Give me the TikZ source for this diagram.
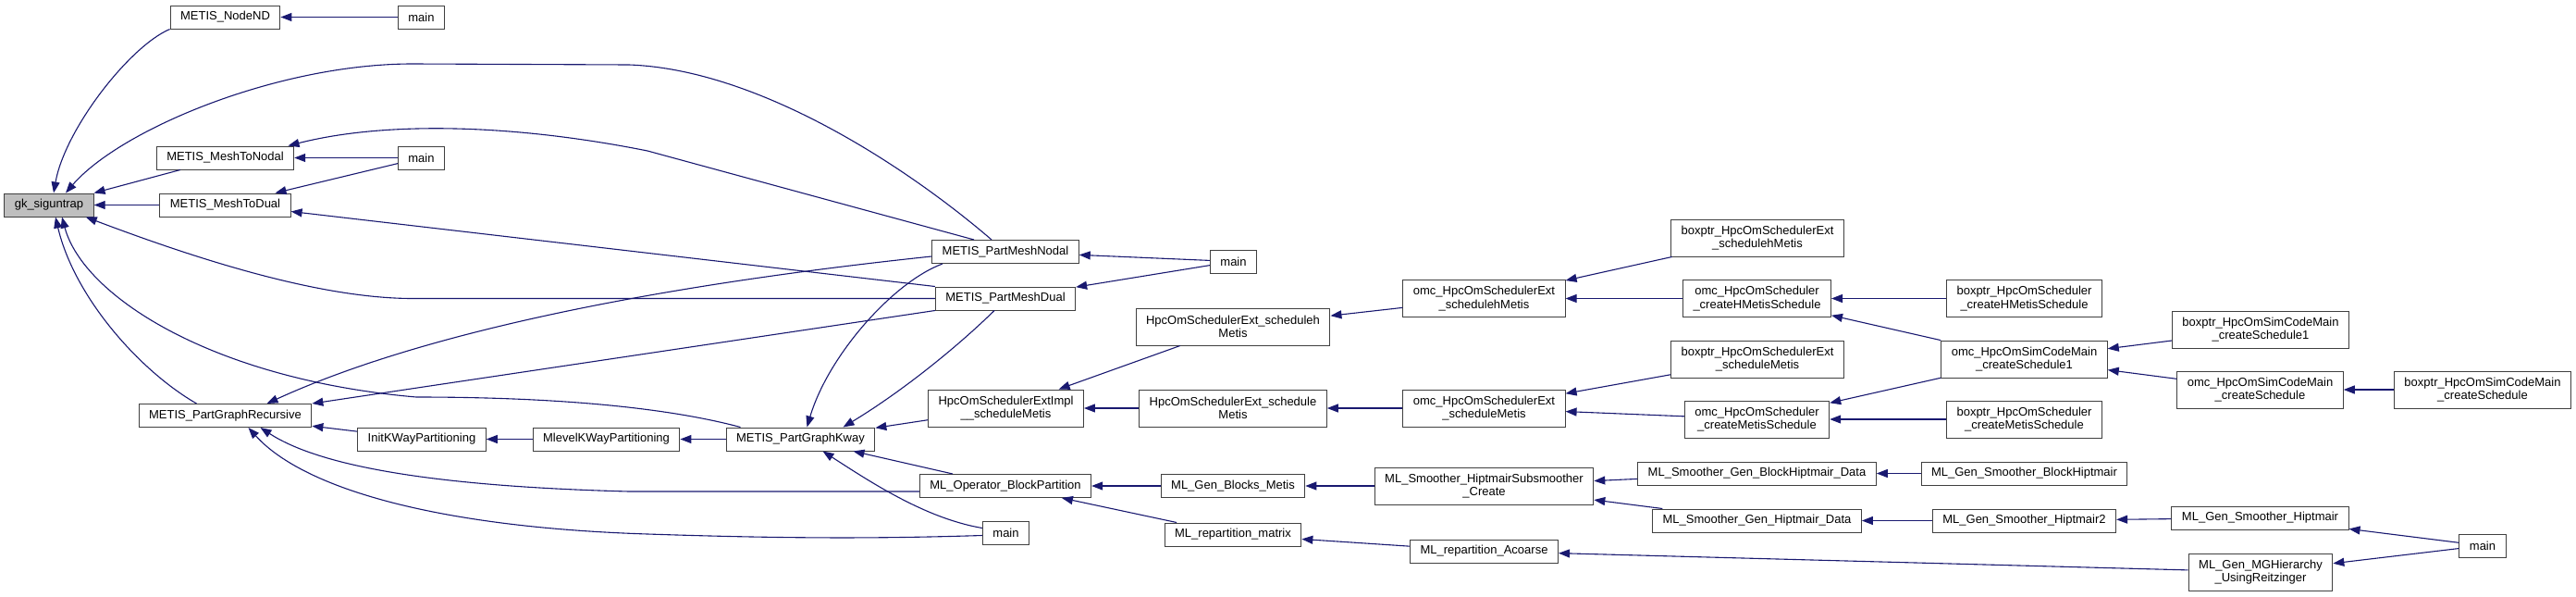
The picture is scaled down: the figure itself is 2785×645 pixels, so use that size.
\documentclass[tikz,border=0pt]{standalone}
\usepackage{fontspec}
\setmainfont{Liberation Sans}
\usepackage{xcolor}
\usetikzlibrary{arrows.meta}
\definecolor{edgeblue}{HTML}{191970}
\definecolor{boxline}{HTML}{404040}

\begin{document}
\begin{tikzpicture}[x=1pt, y=-1pt,
    fn/.style={draw=boxline, line width=1pt, fill=white, align=center,
      font=\fontsize{13}{14.5}\selectfont, inner xsep=11pt, inner ysep=0pt, minimum height=25pt},
    fntwo/.style={fn, minimum height=40pt},
    current/.style={fn, fill=black!25},
    call/.style={edgeblue, line width=1.1pt, {Triangle[length=12pt,width=9pt]}-}]
  \useasboundingbox (0,0) rectangle (2785,645);

  % --- the function and its direct callers ---
  \node[current] (gk) at (53,221.5) {gk\_siguntrap};
  \node[fn] (nodend)    at (243.5,18.5)  {METIS\_NodeND};
  \node[fn] (meshnodal) at (243.5,170.5) {METIS\_MeshToNodal};
  \node[fn] (meshdual)  at (243.5,221.5) {METIS\_MeshToDual};
  \node[fn] (partrec)   at (243.5,449)   {METIS\_PartGraphRecursive};

  % --- second and third column ---
  \node[fn] (mainA)      at (455.5,18.5)  {main};
  \node[fn] (mainB)      at (455.5,170.5) {main};
  \node[fn] (initkway)   at (456,474.5)   {InitKWayPartitioning};
  \node[fn] (mlevelkway) at (655.5,474.5) {MlevelKWayPartitioning};
  \node[fn] (partkway)   at (865.5,474.5) {METIS\_PartGraphKway};

  % --- mesh partitioning, scheduler impl, ML block partition ---
  \node[fn]    (partmeshnodal) at (1087,272)    {METIS\_PartMeshNodal};
  \node[fn]    (partmeshdual)  at (1087,322.5)  {METIS\_PartMeshDual};
  \node[fntwo] (extimpl)       at (1087.5,441)  {HpcOmSchedulerExtImpl\\\_\_scheduleMetis};
  \node[fn]    (blockpart)     at (1087,525)    {ML\_Operator\_BlockPartition};
  \node[fn]    (mainD)         at (1087.5,575.5){main};

  \node[fn]    (mainC)     at (1333.5,282.5) {main};
  \node[fntwo] (schedh)    at (1333,353)     {HpcOmSchedulerExt\_scheduleh\\Metis};
  \node[fntwo] (sched)     at (1333,441)     {HpcOmSchedulerExt\_schedule\\Metis};
  \node[fn]    (genblocks) at (1333,525)     {ML\_Gen\_Blocks\_Metis};
  \node[fn]    (repmatrix) at (1333,577.5)   {ML\_repartition\_matrix};

  \node[fntwo] (omcschedh)    at (1604.5,322.5) {omc\_HpcOmSchedulerExt\\\_schedulehMetis};
  \node[fntwo] (omcsched)     at (1604.5,441)   {omc\_HpcOmSchedulerExt\\\_scheduleMetis};
  \node[fntwo] (smoothcreate) at (1604.5,525)   {ML\_Smoother\_HiptmairSubsmoother\\\_Create};
  \node[fn]    (repacoarse)   at (1604.5,595.5) {ML\_repartition\_Acoarse};

  % --- OpenModelica wrappers and ML smoothers ---
  \node[fntwo] (boxschedh) at (1900,257)     {boxptr\_HpcOmSchedulerExt\\\_schedulehMetis};
  \node[fntwo] (createh)   at (1899.5,322.5) {omc\_HpcOmScheduler\\\_createHMetisSchedule};
  \node[fntwo] (boxsched)  at (1900,388)     {boxptr\_HpcOmSchedulerExt\\\_scheduleMetis};
  \node[fntwo] (createm)   at (1899.5,453)   {omc\_HpcOmScheduler\\\_createMetisSchedule};
  \node[fn]    (blockdata) at (1899.5,511.5) {ML\_Smoother\_Gen\_BlockHiptmair\_Data};
  \node[fn]    (hipdata)   at (1899.5,562.5) {ML\_Smoother\_Gen\_Hiptmair\_Data};

  \node[fntwo] (boxcreateh) at (2188.5,322.5) {boxptr\_HpcOmScheduler\\\_createHMetisSchedule};
  \node[fntwo] (schedone)   at (2188.5,388)   {omc\_HpcOmSimCodeMain\\\_createSchedule1};
  \node[fntwo] (boxcreatem) at (2188.5,453)   {boxptr\_HpcOmScheduler\\\_createMetisSchedule};
  \node[fn]    (blockhip)   at (2188.5,511.5) {ML\_Gen\_Smoother\_BlockHiptmair};
  \node[fn]    (hiptwo)     at (2188.5,562.5) {ML\_Gen\_Smoother\_Hiptmair2};

  \node[fntwo] (boxschedone)    at (2444,356)     {boxptr\_HpcOmSimCodeMain\\\_createSchedule1};
  \node[fntwo] (createsched)    at (2443.5,421)   {omc\_HpcOmSimCodeMain\\\_createSchedule};
  \node[fn]    (genhip)         at (2443.5,559.5) {ML\_Gen\_Smoother\_Hiptmair};
  \node[fntwo] (mghier)         at (2444,618)     {ML\_Gen\_MGHierarchy\\\_UsingReitzinger};
  \node[fntwo] (boxcreatesched) at (2684,421)     {boxptr\_HpcOmSimCodeMain\\\_createSchedule};
  \node[fn]    (mainE)          at (2684,589.5)   {main};

  % --- callers of gk_siguntrap ---
  \draw[call] ([xshift=5pt]gk.north) .. controls (70,140) and (140,50) .. (nodend.south west);
  \draw[call] ([xshift=18pt]gk.north) .. controls (130,140) and (300,69) .. (446,69) -- (680,70)
    .. controls (820,75) and (980,180) .. ([xshift=-15pt]partmeshnodal.north);
  \draw[call] (gk) -- (meshnodal);
  \draw[call] (gk) -- (meshdual);
  \draw[call] ([xshift=-9pt]gk.south east) .. controls (200,275) and (340,322.5) .. (446,322.5) -- (partmeshdual.west);
  \draw[call] ([xshift=7pt]gk.south) .. controls (80,320) and (150,400) .. ([xshift=-31pt]partrec.north);
  \draw[call] ([xshift=14pt]gk.south) .. controls (90,320) and (230,410) .. (450,429)
    .. controls (600,429) and (720,440) .. ([xshift=-65pt]partkway.north);

  % --- METIS level ---
  \draw[call] (nodend) -- (mainA);
  \draw[call] (meshnodal) -- (mainB);
  \draw[call] (meshdual) -- (mainB);
  \draw[call] ([xshift=68pt]meshnodal.north) .. controls (420,130) and (560,135) .. (700,163)
    -- ([xshift=-34pt]partmeshnodal.north);
  \draw[call] ([yshift=-7pt]meshdual.east) -- (partmeshdual.north west);
  \draw[call] ([xshift=45pt]partrec.north) .. controls (400,385) and (600,320) .. ([yshift=-5pt]partmeshnodal.west);
  \draw[call] (partrec.north east) -- (partmeshdual.south west);
  \draw[call] (partrec) -- (initkway);
  \draw[call] ([xshift=38pt]partrec.south) .. controls (340,500) and (450,525) .. (680,531)
    -- ([yshift=-6pt]blockpart.west);
  \draw[call] ([xshift=25pt]partrec.south) .. controls (330,530) and (480,570) .. (700,577)
    .. controls (850,582) and (950,582) .. ([yshift=-3pt]mainD.west);
  \draw[call] (initkway) -- (mlevelkway);
  \draw[call] (mlevelkway) -- (partkway);

  % --- callers of METIS_PartGraphKway ---
  \draw[call] ([xshift=7pt]partkway.north) .. controls (895,385) and (965,305) .. ([xshift=-68pt]partmeshnodal.south);
  \draw[call] ([xshift=46pt]partkway.north) .. controls (980,420) and (1040,370) .. ([xshift=-12pt]partmeshdual.south);
  \draw[call] (partkway) -- (extimpl);
  \draw[call] (partkway) -- (blockpart);
  \draw[call] ([xshift=24pt]partkway.south) .. controls (940,520) and (1000,560) .. ([yshift=5pt]mainD.west);

  \draw[call] (partmeshnodal) -- (mainC);
  \draw[call] (partmeshdual) -- (mainC);
  \draw[call] (extimpl) -- (schedh);
  \draw[call] (extimpl) -- (sched);
  \draw[call] (blockpart) -- (genblocks);
  \draw[call] (blockpart) -- (repmatrix);

  % --- scheduler chain ---
  \draw[call] (schedh) -- (omcschedh);
  \draw[call] (sched) -- (omcsched);
  \draw[call] (omcschedh) -- (boxschedh);
  \draw[call] (omcschedh) -- (createh);
  \draw[call] (omcsched) -- (boxsched);
  \draw[call] (omcsched) -- (createm);
  \draw[call] (createh) -- (boxcreateh);
  \draw[call] (createh) -- (schedone);
  \draw[call] (createm) -- (schedone);
  \draw[call] (createm) -- (boxcreatem);
  \draw[call] (schedone) -- (boxschedone);
  \draw[call] (schedone) -- (createsched);
  \draw[call] (createsched) -- (boxcreatesched);

  % --- ML chain ---
  \draw[call] (genblocks) -- (smoothcreate);
  \draw[call] (smoothcreate) -- (blockdata);
  \draw[call] (smoothcreate) -- (hipdata);
  \draw[call] (blockdata) -- (blockhip);
  \draw[call] (hipdata) -- (hiptwo);
  \draw[call] (hiptwo) -- (genhip);
  \draw[call] (genhip) -- (mainE);
  \draw[call] (mghier) -- (mainE);
  \draw[call] (repmatrix) -- (repacoarse);
  \draw[call] (repacoarse) -- (mghier);
\end{tikzpicture}
\end{document}
